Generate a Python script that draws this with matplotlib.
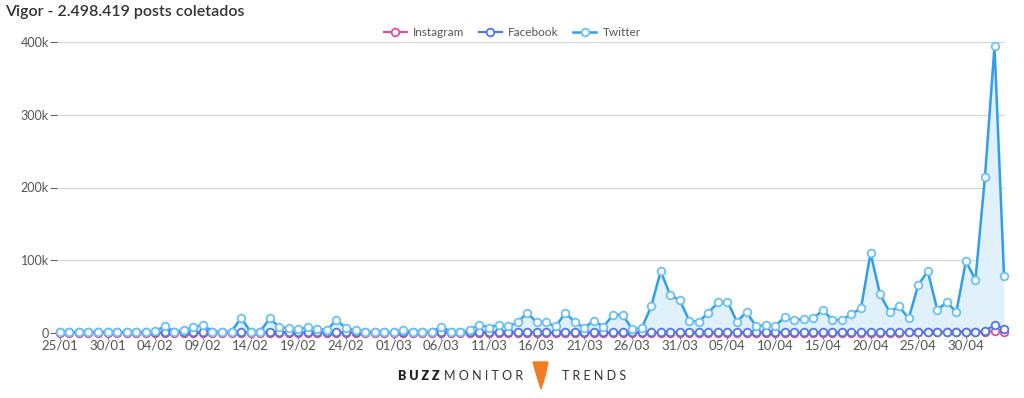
import numpy as np
import matplotlib
matplotlib.use('Agg')
import matplotlib.pyplot as plt
from matplotlib.patches import Polygon

# daily posts (thousands), 25/01 .. 04/05
twitter = [1.5, 1.5, 1.5, 1.5, 1.5, 1.5, 1.5, 1.5, 1.5, 1.5,
           3, 9, 2, 3.5, 8, 11, 2, 1.5, 2, 21,
           1.5, 2, 20, 8.5, 6.5, 5, 8, 6, 4, 18,
           6.5, 4, 2, 1.5, 1, 1, 4.5, 1, 1, 2,
           8.5, 2, 1, 4.5, 11.5, 7.5, 11.5, 9, 14.5, 28,
           14.5, 14.5, 9, 28, 14.5, 7.5, 17, 8.5, 25, 25,
           5.5, 6.5, 36.5, 85, 52, 45, 17, 15.5, 28, 42,
           43, 15.5, 29, 9, 11, 10, 21.5, 18, 19, 20,
           31.5, 18, 18, 26, 34, 110, 53, 29, 36.5, 20,
           66, 85, 32, 42, 29, 99, 73, 215, 394, 78]
facebook = [0.8] * 86 + [1, 1, 1.2, 1.2, 1.5, 1.5, 1.5, 1.5, 2, 2, 2, 2.5, 11, 6]
instagram = [0.2] * 86 + [0.5, 0.6, 0.6, 0.8, 0.8, 1, 1, 1, 1.2, 1.2, 1.5, 1.5, 3, 1]

tick_labels = ["25/01", "30/01", "04/02", "09/02", "14/02", "19/02", "24/02",
               "01/03", "06/03", "11/03", "16/03", "21/03", "26/03", "31/03",
               "05/04", "10/04", "15/04", "20/04", "25/04", "30/04"]

days = np.arange(len(twitter))
tw = np.array(twitter) * 1000
fb = np.array(facebook) * 1000
ig = np.array(instagram) * 1000

plt.rcParams['font.family'] = ['Lato', 'DejaVu Sans']

fig = plt.figure(figsize=(10.24, 3.98), dpi=100)
ax = fig.add_axes([57 / 1024, 1 - 333 / 398, 948 / 1024, 291 / 398])

c_ig = '#e0509f'
c_fb = '#4f78e4'
c_tw = '#2f9eec'

ax.fill_between(days, tw, color='#e1f1fc', zorder=1, lw=0)
ax.plot(days, ig, color=c_ig, lw=1.6, marker='o', ms=5.5, mfc='white',
        mec=c_ig, mew=1.3, label='Instagram', zorder=3, clip_on=False)
ax.plot(days, fb, color=c_fb, lw=1.6, marker='o', ms=5.5, mfc='white',
        mec=c_fb, mew=1.3, label='Facebook', zorder=4, clip_on=False)
ax.plot(days, tw, color=c_tw, lw=1.8, marker='o', ms=5.5, mfc='white',
        mec='#6cc0f4', mew=1.3, label='Twitter', zorder=5, clip_on=False)

ax.set_xlim(-0.3, 99.1)
ax.set_ylim(0, 400000)
ax.set_yticks([0, 100000, 200000, 300000, 400000])
ax.set_yticklabels(['0', '100k', '200k', '300k', '400k'])
ax.set_xticks(np.arange(0, 100, 5))
ax.set_xticklabels(tick_labels)
ax.yaxis.grid(True, color='#d9d9d9', lw=1)
ax.set_axisbelow(True)
for s in ['top', 'right', 'left']:
    ax.spines[s].set_visible(False)
ax.spines['bottom'].set_color('#ccd6eb')
ax.tick_params(axis='y', length=5, color='#666666', labelcolor='#555555',
               labelsize=9, pad=1)
ax.tick_params(axis='x', length=4, color='#666666', labelcolor='#555555',
               labelsize=9.5, pad=1)

fig.text(5 / 1024, 1 - 12 / 398, 'Vigor - 2.498.419 posts coletados',
         fontsize=11.5, fontweight='semibold', color='#333333', va='center')

fig.legend(loc='center', bbox_to_anchor=(0.5, 1 - 33 / 398), ncol=3,
           frameon=False, fontsize=8.5, labelcolor='#555555',
           handlelength=2.0, columnspacing=1.2, handletextpad=0.5)

# footer logo
fig.text(398 / 1024, 1 - 376 / 398, 'B U Z Z', fontsize=9, fontweight='heavy',
         color='#222222', ha='left', va='center')
fig.text(444 / 1024, 1 - 376 / 398, 'M O N I T O R', fontsize=9,
         color='#333333', ha='left', va='center')
fig.text(562 / 1024, 1 - 376 / 398, 'T R E N D S', fontsize=9,
         color='#333333', ha='left', va='center')
fox = Polygon([(533 / 1024, 1 - 362 / 398), (548 / 1024, 1 - 362 / 398),
               (545 / 1024, 1 - 376 / 398), (541 / 1024, 1 - 389 / 398),
               (537 / 1024, 1 - 376 / 398)],
              closed=True, transform=fig.transFigure, color='#f47c20')
fig.patches.append(fox)

fig.savefig('out.png', dpi=100)
